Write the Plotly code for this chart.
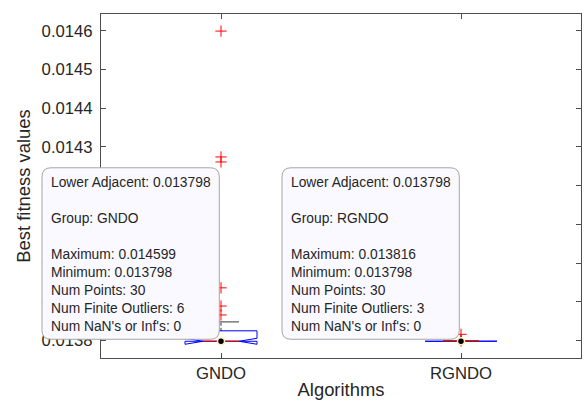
import math
import plotly.graph_objects as go

# ---- summary statistics per algorithm (30 runs each) ----
groups = ["GNDO", "RGNDO"]
n_points = [30, 30]
q1 = [0.013798, 0.013798]
medians = [0.013798, 0.013798]
q3 = [0.013825, 0.0137982]
lower_adjacent = [0.013798, 0.013798]
upper_adjacent = [0.013848, 0.0137985]
maximum = [0.014599, 0.013816]
minimum = [0.013798, 0.013798]
nan_inf_count = [0, 0]
outliers = [
    [0.014599, 0.014274, 0.014261, 0.013936, 0.013889, 0.013866],
    [0.013816, 0.013800, 0.013799],
]

y_ticks = [0.0138, 0.0139, 0.0140, 0.0141, 0.0142, 0.0143, 0.0144, 0.0145, 0.0146]
x_range = [0.5, 2.5]
y_range = [0.0137548, 0.0146431]

FONT = "Liberation Sans, Arial, Helvetica, sans-serif"
AX_COLOR = "#262626"
positions = [i + 1 for i in range(len(groups))]

half_w = 0.15      # half box width (axis units)
notch_in = 0.075   # notch indentation
cap_half = 0.075   # whisker cap half width

fig = go.Figure()

# notched boxes
bx, by = [], []
mx, my = [], []
wx, wy = [], []
cx, cy = [], []
for p, a, m, b, n, lo, hi in zip(positions, q1, medians, q3, n_points,
                                 lower_adjacent, upper_adjacent):
    notch = 1.57 * (b - a) / math.sqrt(n)
    bx += [p - half_w, p - half_w, p - half_w + notch_in, p - half_w, p - half_w,
           p + half_w, p + half_w, p + half_w - notch_in, p + half_w, p + half_w,
           p - half_w, None]
    by += [a, m - notch, m, m + notch, b, b, m + notch, m, m - notch, a, a, None]
    mx += [p - half_w + notch_in, p + half_w - notch_in, None]
    my += [m, m, None]
    wx += [p, p, None, p, p, None]
    wy += [b, hi, None, a, lo, None]
    cx += [p - cap_half, p + cap_half, None, p - cap_half, p + cap_half, None]
    cy += [hi, hi, None, lo, lo, None]

fig.add_trace(go.Scatter(x=bx, y=by, mode="lines", line=dict(color="#0000ff", width=1),
                         hoverinfo="skip", showlegend=False))
fig.add_trace(go.Scatter(x=wx, y=wy, mode="lines",
                         line=dict(color="#000000", width=0.8, dash="3px,2px"),
                         hoverinfo="skip", showlegend=False))
fig.add_trace(go.Scatter(x=cx, y=cy, mode="lines", line=dict(color="#000000", width=0.8),
                         hoverinfo="skip", showlegend=False))
fig.add_trace(go.Scatter(x=mx, y=my, mode="lines", line=dict(color="#ff0000", width=1),
                         hoverinfo="skip", showlegend=False))

# outliers
ox, oy = [], []
for p, vals in zip(positions, outliers):
    ox += [p] * len(vals)
    oy += vals
fig.add_trace(go.Scatter(x=ox, y=oy, mode="markers",
                         marker=dict(symbol="cross-thin-open", size=8, color="#ff0000",
                                     line=dict(color="#ff0000", width=1)),
                         hoverinfo="skip", showlegend=False))

# data-tip anchor dots
fig.add_trace(go.Scatter(x=positions, y=medians, mode="markers",
                         marker=dict(symbol="circle", size=7, color="#000000",
                                     line=dict(color="#fbf3c4", width=1.5)),
                         hoverinfo="skip", showlegend=False))

# data tips
TIP_L, TIP_R, TIP_B, TIP_T, R = -179, -1.7, 2, 173.5, 9
tip_path = (f"M {TIP_L + R},{TIP_T} L {TIP_R - R},{TIP_T} Q {TIP_R},{TIP_T} {TIP_R},{TIP_T - R} "
            f"L {TIP_R},{TIP_B + R} Q {TIP_R},{TIP_B} {TIP_R - R},{TIP_B} "
            f"L {TIP_L + R},{TIP_B} Q {TIP_L},{TIP_B} {TIP_L},{TIP_B + R} "
            f"L {TIP_L},{TIP_T - R} Q {TIP_L},{TIP_T} {TIP_L + R},{TIP_T} Z")

shapes = []
annotations = []
for i, (p, m) in enumerate(zip(positions, medians)):
    xa = (p - x_range[0]) / (x_range[1] - x_range[0])
    ya = (m - y_range[0]) / (y_range[1] - y_range[0])
    shapes.append(dict(type="path", xref="paper", yref="paper",
                       xsizemode="pixel", ysizemode="pixel", xanchor=xa, yanchor=ya,
                       path=tip_path, fillcolor="#f9f9ff",
                       line=dict(color="#a6a6a6", width=1), layer="above"))
    lines = [
        f"Lower Adjacent: {lower_adjacent[i]:.5g}",
        "",
        f"Group: {groups[i]}",
        "",
        f"Maximum: {maximum[i]:.5g}",
        f"Minimum: {minimum[i]:.5g}",
        f"Num Points: {n_points[i]}",
        f"Num Finite Outliers: {len(outliers[i])}",
        f"Num NaN's or Inf's: {nan_inf_count[i]}",
    ]
    annotations.append(dict(x=p, y=m, xref="x", yref="y", text="<br>".join(lines),
                            showarrow=False, xanchor="left", yanchor="middle", align="left",
                            xshift=-172, yshift=86.5,
                            font=dict(family=FONT, size=13.8, color="#262626")))

axis_common = dict(showline=True, linecolor="#4d4d4d", linewidth=1, mirror="ticks",
                   ticks="inside", ticklen=5, tickcolor="#4d4d4d", tickwidth=1,
                   showgrid=False, zeroline=False,
                   tickfont=dict(family=FONT, size=16.7, color=AX_COLOR))

fig.update_layout(
    width=585, height=408,
    margin=dict(l=101, r=4, t=14, b=50),
    paper_bgcolor="white", plot_bgcolor="white",
    shapes=shapes, annotations=annotations,
    xaxis=dict(range=x_range, tickvals=positions, ticktext=groups,
               title=dict(text="Algorithms", font=dict(family=FONT, size=18.4, color=AX_COLOR),
                          standoff=1),
               **axis_common),
    yaxis=dict(range=y_range, tickvals=y_ticks, tickformat=".4f", ticklabelstandoff=4,
               title=dict(text="Best fitness values",
                          font=dict(family=FONT, size=18.4, color=AX_COLOR), standoff=6),
               **axis_common),
)

fig.write_html("out.html")
